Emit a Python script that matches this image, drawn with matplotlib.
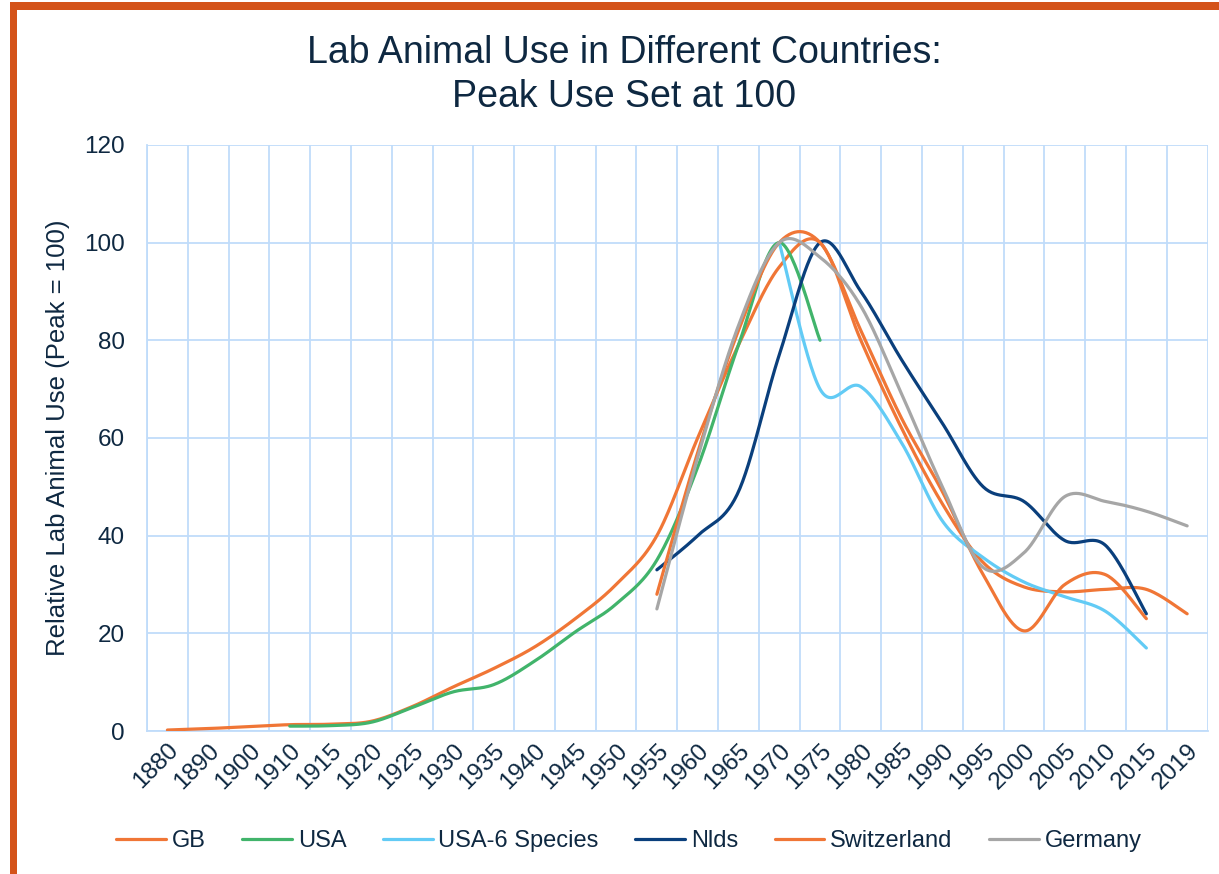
import numpy as np
import matplotlib.pyplot as plt
import matplotlib.transforms as mtransforms
from matplotlib.patches import Rectangle

plt.rcParams['font.family'] = ['Liberation Sans', 'DejaVu Sans']

cat_years = [1880, 1890, 1900, 1910, 1915, 1920, 1925, 1930, 1935, 1940, 1945, 1950,
             1955, 1960, 1965, 1970, 1975, 1980, 1985, 1990, 1995, 2000, 2005, 2010,
             2015, 2019]

gb_years = cat_years
gb_vals = [0.2, 0.5, 0.9, 1.3, 1.4, 2.0, 5.0, 9.0, 12.8, 17.2, 23.0, 30.0,
           40.0, 60.0, 79.0, 95.0, 100.0, 80.0, 62.0, 46.5, 34.5, 29.5, 28.5, 29.0,
           29.0, 24.0]

usa_years = [1910, 1915, 1920, 1925, 1930, 1935, 1940, 1945, 1950, 1955, 1960, 1965,
             1970, 1975]
usa_vals = [1.0, 1.1, 1.8, 4.8, 8.0, 9.5, 14.3, 20.3, 26.0, 35.0, 54.0, 79.0,
            100.0, 80.0]

usa6_years = [1970, 1975, 1980, 1985, 1990, 1995, 2000, 2005, 2010, 2015]
usa6_vals = [100.0, 70.0, 70.5, 59.0, 43.0, 35.5, 30.5, 27.5, 24.5, 17.0]

nl_years = [1955, 1960, 1965, 1970, 1975, 1980, 1985, 1990, 1995, 2000, 2005, 2010,
            2015]
nl_vals = [33.0, 40.0, 49.0, 77.0, 100.0, 90.0, 76.0, 63.0, 50.0, 47.0, 39.0, 38.0,
           24.0]

ch_years = [1955, 1960, 1965, 1970, 1975, 1980, 1985, 1990, 1995, 2000, 2005, 2010,
            2015]
ch_vals = [28.0, 57.0, 82.0, 100.0, 100.0, 82.0, 64.0, 49.0, 32.0, 20.5, 30.0, 32.0,
           23.0]

de_years = [1955, 1960, 1965, 1970, 1975, 1980, 1985, 1990, 1995, 2000, 2005, 2010,
            2015, 2019]
de_vals = [25.0, 56.0, 83.0, 100.0, 97.0, 87.0, 69.0, 50.0, 33.5, 36.5, 48.0, 47.0,
           45.0, 42.0]

series = [
    ('GB', gb_years, gb_vals, '#F07636'),
    ('USA', usa_years, usa_vals, '#41B46B'),
    ('USA-6 Species', usa6_years, usa6_vals, '#62CBF5'),
    ('Nlds', nl_years, nl_vals, '#0A3F7C'),
    ('Switzerland', ch_years, ch_vals, '#F07636'),
    ('Germany', de_years, de_vals, '#A6A6A6'),
]

text_color = '#0E2841'
grid_color = '#C0DCFA'


def smooth(xs, ys, n=30):
    # excel style smoothed line (bezier through the points)
    pts = np.column_stack([xs, ys]).astype(float)
    p = np.vstack([pts[0], pts, pts[-1]])
    t = np.linspace(0, 1, n)[:, None]
    out = []
    for i in range(len(pts) - 1):
        p0, p1, p2, p3 = p[i], p[i + 1], p[i + 2], p[i + 3]
        c1 = p1 + (p2 - p0) / 6
        c2 = p2 - (p3 - p1) / 6
        seg = (1 - t) ** 3 * p1 + 3 * (1 - t) ** 2 * t * c1 + 3 * (1 - t) * t ** 2 * c2 + t ** 3 * p2
        out.append(seg if i == 0 else seg[1:])
    return np.vstack(out)


fig = plt.figure(figsize=(12.19, 8.74), dpi=100)
ax = fig.add_axes([0.1206, 0.1636, 0.8700, 0.6706])

handles = []
for name, yrs, vals, col in series:
    xs = [cat_years.index(y) for y in yrs]
    curve = smooth(xs, vals)
    ln, = ax.plot(curve[:, 0], curve[:, 1], color=col, lw=2.3,
                  solid_capstyle='round', label=name, zorder=3)
    handles.append(ln)

ax.set_xlim(-0.5, len(cat_years) - 0.5)
ax.set_ylim(0, 120)
ax.set_yticks(range(0, 121, 20))
ax.set_xticks(range(len(cat_years)))
ax.set_xticklabels([str(y) for y in cat_years], rotation=45, ha='right', va='top',
                   rotation_mode='anchor')
shift = mtransforms.ScaledTranslation(6 / 72, 0, fig.dpi_scale_trans)
for lbl in ax.get_xticklabels():
    lbl.set_transform(lbl.get_transform() + shift)
ax.set_xticks(np.arange(-0.5, len(cat_years), 1), minor=True)
ax.grid(False)
ax.grid(True, which='minor', axis='x', color=grid_color, lw=1.3)
ax.grid(True, which='major', axis='y', color=grid_color, lw=1.3)
ax.set_axisbelow(True)
for s in ['top', 'right']:
    ax.spines[s].set_visible(False)
for s in ['left', 'bottom']:
    ax.spines[s].set_color(grid_color)
    ax.spines[s].set_linewidth(1.3)
ax.tick_params(axis='both', which='both', length=0, labelsize=17.5, colors=text_color)
ax.tick_params(axis='x', pad=6)
ax.tick_params(axis='y', pad=16)

ax.set_ylabel('Relative Lab Animal Use (Peak = 100)', fontsize=18.5, color=text_color,
              labelpad=10)

fig.text(0.512, 0.96, 'Lab Animal Use in Different Countries:\nPeak Use Set at 100',
         ha='center', va='top', fontsize=27, color=text_color, linespacing=1.3)

fig.legend(handles, [h.get_label() for h in handles], loc='center',
           bbox_to_anchor=(0.516, 0.038), ncol=6, frameon=False, fontsize=17,
           handlelength=2.1, columnspacing=1.55, handletextpad=0.25,
           labelcolor=text_color)

# orange frame at top and left
border = '#D4531A'
fig.add_artist(Rectangle((10 / 1219, 1 - 10 / 874), 1, 8 / 874, transform=fig.transFigure,
                         color=border, lw=0))
fig.add_artist(Rectangle((10 / 1219, 0), 7 / 1219, 1 - 2 / 874, transform=fig.transFigure,
                         color=border, lw=0))

fig.savefig('out.png', dpi=100)
